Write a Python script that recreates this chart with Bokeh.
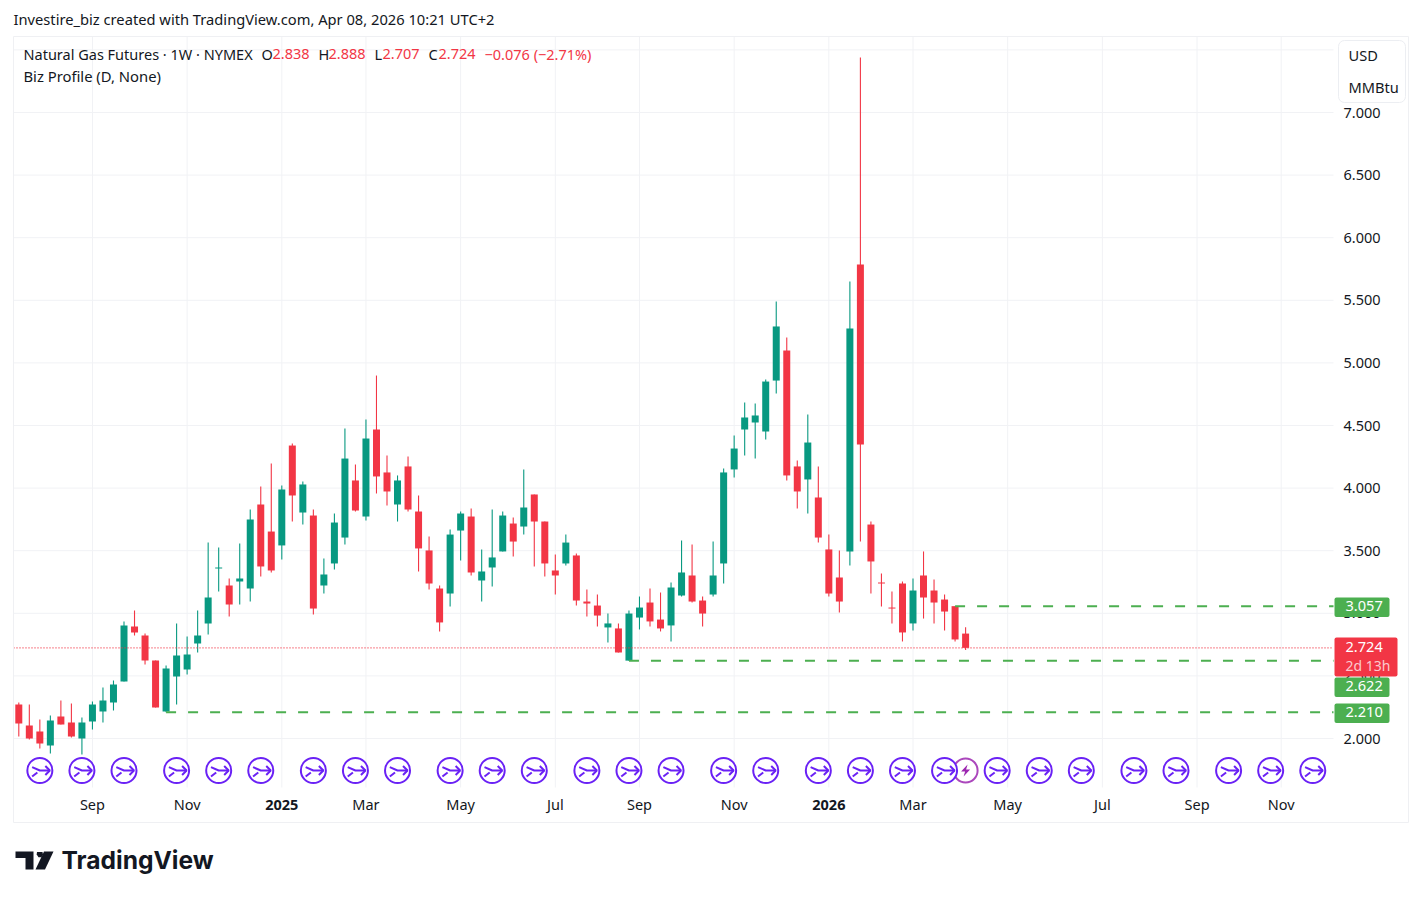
from bokeh.embed import file_html
from bokeh.resources import INLINE
from bokeh.plotting import figure
from bokeh.models import (ColumnDataSource, Range1d, LinearAxis, FixedTicker, PrintfTickFormatter,
                          Label, BoxAnnotation, PolyAnnotation)

opens = [2.272,2.104,2.056,1.944,2.176,2.128,2.000,2.136,2.216,2.288,2.455,2.895,2.823,2.623,2.216,2.495,2.551,2.759,2.919,3.358,
         3.222,3.254,3.198,3.869,3.653,3.542,4.340,3.805,3.781,3.222,3.398,3.605,4.061,3.773,4.468,4.125,3.869,4.173,3.813,3.502,
         3.198,3.158,3.661,3.773,3.262,3.366,3.494,3.717,3.693,3.949,3.733,3.342,3.398,3.462,3.094,3.062,2.887,2.879,2.622,2.966,
         3.086,2.950,2.903,3.142,3.302,3.102,3.150,3.398,4.149,4.468,4.524,4.452,4.859,5.099,4.173,4.069,3.925,3.510,3.286,3.494,
         5.786,3.709,3.246,3.046,3.238,2.919,3.302,3.182,3.110,3.057,2.838]
highs = [2.288,2.272,2.152,2.184,2.304,2.280,2.168,2.296,2.407,2.463,2.935,3.022,2.839,2.623,2.583,2.919,2.815,3.022,3.565,3.526,
         3.278,3.558,3.829,4.013,4.196,4.021,4.356,4.053,3.829,3.438,3.797,4.476,4.189,4.548,4.899,4.260,4.101,4.252,3.941,3.613,
         3.222,3.669,3.813,3.837,3.510,3.829,3.813,3.765,4.149,3.949,3.733,3.470,3.629,3.478,3.190,3.150,2.998,2.919,3.022,3.134,
         3.198,3.166,3.246,3.581,3.550,3.134,3.573,4.157,4.420,4.684,4.676,4.867,5.490,5.203,4.220,4.588,4.173,3.629,3.502,5.650,
         7.439,3.733,3.318,3.174,3.254,3.278,3.494,3.270,3.150,3.057,2.888]
lows = [2.016,1.992,1.920,1.880,2.112,2.008,1.872,2.072,2.128,2.224,2.455,2.823,2.591,2.248,2.210,2.272,2.511,2.687,2.831,3.174,
        2.974,3.070,3.094,3.294,3.326,3.430,3.733,3.709,2.990,3.158,3.350,3.550,3.813,3.741,3.957,3.861,3.733,3.813,3.334,3.190,
        2.855,3.054,3.422,3.302,3.094,3.214,3.494,3.454,3.629,3.374,3.294,3.150,3.382,3.062,2.974,2.895,2.767,2.687,2.622,2.871,
        2.895,2.855,2.775,3.134,3.086,2.895,3.134,3.238,4.085,4.260,4.236,4.388,4.756,4.061,3.837,3.797,3.565,3.134,3.006,3.382,
        3.573,3.158,3.054,2.919,2.775,2.863,2.958,2.919,2.863,2.775,2.707]
closes = [2.120,2.000,1.960,2.144,2.112,2.016,2.128,2.272,2.304,2.431,2.903,2.847,2.623,2.248,2.559,2.663,2.671,2.823,3.126,3.366,
          3.070,3.278,3.749,3.374,3.342,3.989,3.941,4.029,3.038,3.310,3.725,4.236,3.821,4.396,4.093,3.973,4.061,3.829,3.518,3.238,
          2.927,3.629,3.797,3.326,3.334,3.446,3.781,3.573,3.845,3.733,3.398,3.302,3.565,3.102,3.078,2.982,2.919,2.687,2.998,3.046,
          2.935,2.879,3.206,3.326,3.094,2.998,3.302,4.125,4.316,4.564,4.580,4.851,5.291,4.101,3.973,4.364,3.605,3.158,3.094,5.275,
          4.348,3.414,3.238,3.038,2.847,3.182,3.126,3.086,3.014,2.791,2.724]

month_ticks = [7,16,25,33,42,51,59,68,77,85,94,103,112,120]
month_labels = ["Sep","Nov","","Mar","May","Jul","Sep","Nov","","Mar","May","Jul","Sep","Nov"]
year_ticks = [25,77]
year_labels = ["2025","2026"]
price_ticks = [2.0,2.5,3.0,3.5,4.0,4.5,5.0,5.5,6.0,6.5,7.0,7.5]
event_idx = [2,6,10,15,19,23,28,32,36,41,45,49,54,58,62,67,71,76,80,84,88,93,97,101,106,110,115,119,123]
bolt_idx = [90]
levels = [2.210,2.622,3.057]
level_start = [14,58,89]
last_price = 2.724

UP, DOWN, GREEN, PURPLE, MAGENTA = "#089981","#f23645","#4caf50","#6a21f5","#9c27b0"
TXT = "#131722"
GRID = "#f1f2f5"
FONT = "Noto Sans"
W, H = 1412, 888
PANE_L, PANE_R, PANE_T, PANE_B = 13, 1333, 36, 787   # plotting pane on the page, in pixels
PX_X = 10.52; PX_Y = 125.2                            # pixels per bar, pixels per 1.0 of price
X_AT = 18.3; Y_AT = 738.0                             # page position of bar 0 and of price 2.0

def dx(px): return (px-X_AT)/PX_X
def dy(py): return 2.0+(Y_AT-py)/PX_Y

x_pane0, x_pane1 = dx(PANE_L), dx(PANE_R)
y_pane0, y_pane1 = dy(PANE_B), dy(PANE_T)
EVT_Y = dy(770)

p = figure(width=W, height=H, output_backend="svg", toolbar_location=None,
           x_range=Range1d(dx(0),dx(W)), y_range=Range1d(dy(H),dy(0)),
           min_border=0, x_axis_location=None, y_axis_location=None,
           background_fill_color="white", border_fill_color="white")
p.outline_line_color = None
p.xgrid.visible = False
p.ygrid.visible = False

p.segment(month_ticks,[y_pane0]*len(month_ticks),month_ticks,[y_pane1]*len(month_ticks),line_color=GRID,line_width=1)
p.segment([x_pane0]*len(price_ticks),price_ticks,[x_pane1]*len(price_ticks),price_ticks,line_color=GRID,line_width=1)

xa = LinearAxis(ticker=FixedTicker(ticks=month_ticks), fixed_location=y_pane0,
                major_label_overrides={t:l for t,l in zip(month_ticks,month_labels)})
ya = LinearAxis(ticker=FixedTicker(ticks=price_ticks), fixed_location=x_pane1,
                formatter=PrintfTickFormatter(format="%.3f"))
for a in (xa,ya):
    a.axis_line_color=None; a.major_tick_line_color=None; a.minor_tick_line_color=None
    a.major_label_text_font=FONT; a.major_label_text_font_size="14.5px"; a.major_label_text_color=TXT
    a.major_tick_in=0; a.major_tick_out=0
xa.major_label_standoff=6
ya.major_label_standoff=10
p.add_layout(xa,"below"); p.add_layout(ya,"right")

idx = list(range(len(opens)))
up = [c>=o for o,c in zip(opens,closes)]
src = ColumnDataSource(dict(x=idx,o=opens,h=highs,l=lows,c=closes,
    top=[max(o,c) for o,c in zip(opens,closes)], bot=[min(o,c) for o,c in zip(opens,closes)],
    col=[UP if u else DOWN for u in up]))
p.segment("x","h","x","l",source=src,line_color="col",line_width=1.1)
p.vbar("x",width=7/PX_X,top="top",bottom="bot",source=src,fill_color="col",line_color=None)

p.line([x_pane0,x_pane1],[last_price,last_price],line_color=DOWN,line_width=1.2,line_dash=[1,2])
for v,s in zip(levels,level_start):
    p.line([s,x_pane1],[v,v],line_color=GREEN,line_width=2,line_dash=[10,12])

# event icons
def px_dx(d): return d/PX_X
def px_dy(d): return -d/PX_Y
p.scatter(bolt_idx,[EVT_Y]*len(bolt_idx),marker="circle",size=24,fill_color="white",line_color=MAGENTA,line_width=2,line_alpha=0.85)
for i in bolt_idx:
    pts=[(2,-6),(-4.5,1),(-0.5,1),(-2,6),(4.5,-1),(0.5,-1)]
    p.patch([i+px_dx(a) for a,b in pts],[EVT_Y+px_dy(b) for a,b in pts],fill_color=MAGENTA,line_color=None)
p.scatter(event_idx,[EVT_Y]*len(event_idx),marker="circle",size=25,fill_color="white",line_color=PURPLE,line_width=2)
xs,ys=[],[]
for i in event_idx:
    for seg in ([(-7.7,-3.3),(0,0),(10,0)],[(5.5,-4.5),(10,0),(5.5,4.5)],[(-7.7,6),(-2.5,2)]):
        xs.append([i+px_dx(a) for a,b in seg]); ys.append([EVT_Y+px_dy(b) for a,b in seg])
p.multi_line(xs,ys,line_color=PURPLE,line_width=2)

# annotations given in page pixels
def sx(x): return x
def sy(y): return H-y
def text(x,y,t,color=TXT,size="14.6px",align="left",weight="normal",font=FONT):
    p.add_layout(Label(x=sx(x-1),y=sy(y-1.5),x_units="screen",y_units="screen",text=t,text_color=color,text_font=font,
            text_font_size=size,text_align=align,text_baseline="middle",text_font_style=weight))
def box(l,r,t,b,**kw):
    p.add_layout(BoxAnnotation(left=sx(l),right=sx(r),top=sy(t),bottom=sy(b),left_units="screen",right_units="screen",
                               top_units="screen",bottom_units="screen",**kw))

box(PANE_L,1408,PANE_T,822,fill_color=None,line_color="#eff0f3",line_alpha=1,line_width=1)
box(1338,1405,40,102,fill_color="white",fill_alpha=1,line_color="#eceef2",line_alpha=1,line_width=1,border_radius=6)
text(1349,56,"USD")
text(1349,88,"MMBtu")
box(1334,1389,597,616.5,fill_color=GREEN,fill_alpha=1,line_color=None,border_radius=2)
box(1334,1389,677,696.5,fill_color=GREEN,fill_alpha=1,line_color=None,border_radius=2)
box(1334,1389,703,722.5,fill_color=GREEN,fill_alpha=1,line_color=None,border_radius=2)
box(1334,1397,637,676,fill_color=DOWN,fill_alpha=1,line_color=None,border_radius=2)
text(1346,606.5,"3.057",color="white")
text(1346,686.5,"2.622",color="white")
text(1346,712.5,"2.210",color="white")
text(1346,647.5,"2.724",color="white")
text(1346,666,"2d 13h",color="#fbc9ce",size="14px")

for t,l in zip(year_ticks,year_labels):
    p.add_layout(Label(x=t,y=sy(804),x_units="data",y_units="screen",text=l,text_font=FONT,text_font_size="14.5px",
                       text_font_style="bold",text_color=TXT,text_align="center",text_baseline="middle"))

text(14,20,"Investire_biz created with TradingView.com, Apr 08, 2026 10:21 UTC+2",size="14.7px")
text(24,55,"Natural Gas Futures · 1W · NYMEX",size="14.5px")
for x,t,c in [(262,"O",TXT),(273,"2.838",DOWN),(319,"H",TXT),(329,"2.888",DOWN),(375,"L",TXT),(383,"2.707",DOWN),
              (429,"C",TXT),(439,"2.724",DOWN),(485,"−0.076 (−2.71%)",DOWN)]:
    text(x,55,t,color=c,size="14.5px")
text(24,77,"Biz Profile (D, None)",size="14.8px")

LOGO="#131722"
def poly(pts):
    p.add_layout(PolyAnnotation(xs=[sx(a) for a,b in pts],ys=[sy(b) for a,b in pts],xs_units="screen",ys_units="screen",
                                fill_color=LOGO,fill_alpha=1,line_color=None))
poly([(15,851),(33,851),(33,869),(25,869),(25,857.5),(15,857.5)])
poly([(43.5,851),(53,851),(44.5,869),(35,869)])
poly([(36.5,851.5),(42,851.5),(42.5,854),(41,856.8),(38,856.8),(36.2,854)])
text(62,861,"TradingView",color=LOGO,size="24.6px",weight="bold",font="Inter")

open("out.html","w").write(file_html(p,INLINE))
